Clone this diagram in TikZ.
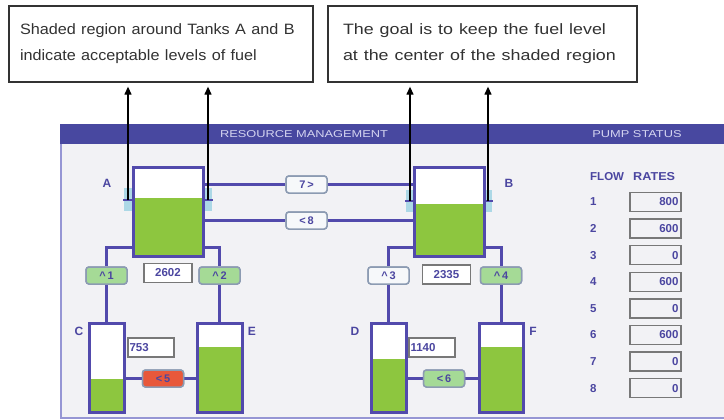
\documentclass[tikz,border=0pt]{standalone}
\usepackage{fontspec}
\setmainfont{Liberation Sans}
\usetikzlibrary{arrows.meta}
\definecolor{hdr}{RGB}{72,72,160}
\definecolor{pipec}{RGB}{82,74,172}
\definecolor{tankgreen}{RGB}{141,198,63}
\definecolor{panelbg}{RGB}{242,242,245}
\definecolor{lbl}{RGB}{75,70,160}
\definecolor{bandc}{RGB}{172,216,230}
\definecolor{btnedge}{RGB}{140,155,178}
\definecolor{btngreen}{RGB}{165,218,150}
\definecolor{btnwhite}{RGB}{246,248,250}
\definecolor{btnred}{RGB}{232,88,58}
\definecolor{hdrtext}{RGB}{212,212,240}
\definecolor{paneledge}{RGB}{150,150,212}
\definecolor{numedge}{RGB}{120,120,120}
\definecolor{notetext}{RGB}{50,50,50}
\newcommand\pnlfont{\fontsize{11.5}{13}\selectfont\bfseries}
\newcommand\btnfont{\fontsize{11}{13}\selectfont\bfseries}
\newcommand\tankfill[2]{\fill[tankgreen] (#1.south west) rectangle (#1.east |- 0,#2);
  \draw[tankline] (#1.south west) rectangle (#1.north east);}
\begin{document}
\begin{tikzpicture}[x=1pt,y=-1pt,
  pipe/.style={draw=pipec, line width=3pt},
  tank/.style={draw=pipec, line width=3pt, fill=white, inner sep=0, outer sep=0, minimum height=89},
  tankline/.style={draw=pipec, line width=3pt},
  btn/.style={draw=btnedge, line width=1.5pt, rounded corners=3pt, minimum width=41, minimum height=17, inner sep=0, font=\btnfont, text=lbl},
  numbox/.style={draw=numedge, line width=1.3pt, fill=white, minimum width=48, minimum height=19, inner sep=0, font=\pnlfont, text=lbl},
  leftnum/.style={numbox, minimum width=46, text width=43, align=left},
  pumpbox/.style={draw=numedge, line width=1.3pt, fill=panelbg, minimum width=51, minimum height=19, inner xsep=2pt, inner ysep=0, text width=46, align=right, font=\pnlfont, text=lbl},
  plabel/.style={font=\pnlfont, text=lbl, inner sep=0},
  tlabel/.style={font=\fontsize{12}{14}\selectfont\bfseries, text=lbl, inner sep=0},
  hdrlabel/.style={font=\fontsize{10}{12}\selectfont, text=hdrtext, inner sep=0},
  note/.style={draw=black!80, line width=1.3pt, fill=white, minimum height=76, align=left, text=notetext, inner xsep=0, font=\fontsize{15}{26}\selectfont},
  callarrow/.style={draw=black, line width=1.2pt, -{Triangle[length=8pt,width=7pt]}, shorten >=4pt},
  band/.style={fill=bandc},
  tick/.style={draw=pipec, line width=2pt}
]
\useasboundingbox (0,0) rectangle (724,420);
\fill[white] (0,0) rectangle (724,420);
% panel
\fill[panelbg] (60,124) rectangle (724,418);
\draw[paneledge, line width=1.5pt] (61,140) -- (61,418) -- (724,418);
\fill[hdr] (60,124) rectangle (724,144);
\node[hdrlabel] (h1) at (304,134) {\scalebox{1.28}[1]{RESOURCE MANAGEMENT}};
\node[hdrlabel] (h2) at (637,134) {\scalebox{1.28}[1]{PUMP STATUS}};
% notes
\node[note, minimum width=304, text width=282] (n1) at (161,44)
  {\scalebox{1.08}[1]{Shaded region around Tanks A and B}\\\scalebox{1.08}[1]{indicate acceptable levels of fuel}};
\node[note, minimum width=309, text width=279] (n2) at (482.5,44)
  {\scalebox{1.19}[1]{The goal is to keep the fuel level}\\\scalebox{1.19}[1]{at the center of the shaded region}};
% tanks
\node[tank, minimum width=70] (A) at (168,211.5) {};
\node[tank, minimum width=70] (B) at (449,211.5) {};
\node[tank, minimum width=35] (C) at (106.5,367.5) {};
\node[tank, minimum width=45] (E) at (219.5,367.5) {};
\node[tank, minimum width=35] (D) at (388.5,367.5) {};
\node[tank, minimum width=44] (F) at (501,367.5) {};
% buttons
\node[btn, fill=btngreen] (b1) at (106.5,275.5) {\textasciicircum\,1};
\node[btn, fill=btngreen] (b2) at (219.5,275.5) {\textasciicircum\,2};
\node[btn, fill=btnwhite] (b3) at (388.5,275.5) {\textasciicircum\,3};
\node[btn, fill=btngreen] (b4) at (501,275.5) {\textasciicircum\,4};
\node[btn, fill=btnred]   (b5) at (163,378.5) {<\,5};
\node[btn, fill=btngreen] (b6) at (444,378.5) {<\,6};
\node[btn, fill=btnwhite] (b7) at (306.5,184.5) {7\,>};
\node[btn, fill=btnwhite] (b8) at (306.5,220.5) {<\,8};
% pipes
\draw[pipe] (A.east |- b7) -- (b7.west);
\draw[pipe] (b7.east) -- (B.west |- b7);
\draw[pipe] (A.east |- b8) -- (b8.west);
\draw[pipe] (b8.east) -- (B.west |- b8);
\draw[pipe] ([yshift=9pt]A.south west) -| (b1.north);
\draw[pipe] ([yshift=9pt]A.south east) -| (b2.north);
\draw[pipe] ([yshift=9pt]B.south west) -| (b3.north);
\draw[pipe] ([yshift=9pt]B.south east) -| (b4.north);
\draw[pipe] (b1.south) -- (C.north);
\draw[pipe] (b2.south) -- (E.north);
\draw[pipe] (b3.south) -- (D.north);
\draw[pipe] (b4.south) -- (F.north);
\draw[pipe] (C.east |- b5) -- (b5.west);
\draw[pipe] (b5.east) -- (E.west |- b5);
\draw[pipe] (D.east |- b6) -- (b6.west);
\draw[pipe] (b6.east) -- (F.west |- b6);
% redraw buttons on top of pipes
\node[btn, fill=btngreen] at (b1) {\textasciicircum\,1};
\node[btn, fill=btngreen] at (b2) {\textasciicircum\,2};
\node[btn, fill=btnwhite] at (b3) {\textasciicircum\,3};
\node[btn, fill=btngreen] at (b4) {\textasciicircum\,4};
\node[btn, fill=btnred]   at (b5) {<\,5};
\node[btn, fill=btngreen] at (b6) {<\,6};
\node[btn, fill=btnwhite] at (b7) {7\,>};
\node[btn, fill=btnwhite] at (b8) {<\,8};
% acceptable-level bands
\fill[band] (124,188) rectangle (A.west |- 0,211);
\fill[band] (A.east |- 0,188) rectangle (212,211);
\fill[band] (406,190) rectangle (B.west |- 0,212);
\fill[band] (B.east |- 0,190) rectangle (492,212);
% fuel levels
\tankfill{A}{198}
\tankfill{B}{204}
\tankfill{C}{379}
\tankfill{E}{347}
\tankfill{D}{359}
\tankfill{F}{347}
% level ticks
\coordinate (iA1) at (128,200);
\coordinate (iA2) at (208,200);
\coordinate (iB1) at (410,201);
\coordinate (iB2) at (488,201);
\draw[tick] (123,200) -- (A.west |- iA1);
\draw[tick] (A.east |- iA2) -- (213,200);
\draw[tick] (405,201) -- (B.west |- iB1);
\draw[tick] (B.east |- iB2) -- (493,201);
% number boxes
\node[numbox] (nA) at (168,273) {2602};
\node[numbox] (nB) at (446.5,274.5) {2335};
\node[leftnum] (nC) at (151,347.5) {753};
\node[leftnum] (nD) at (432,347.5) {1140};
% tank labels
\node[tlabel] (lA) at (107,183) {A};
\node[tlabel] (lB) at (509,183) {B};
\node[tlabel] (lC) at (79,331) {C};
\node[tlabel] (lE) at (252,331) {E};
\node[tlabel] (lD) at (355,331) {D};
\node[tlabel] (lF) at (533,331) {F};
% pump status
\node[plabel, anchor=west] (fl) at (590,177) {FLOW};
\node[plabel, anchor=west] (rt) at (633,177) {\scalebox{1.1}[1]{RATES}};
\foreach \i/\v in {1/800,2/600,3/0,4/600,5/0,6/600,7/0,8/0}{
  \pgfmathsetmacro\yy{202+(\i-1)*26.6}
  \node[plabel, anchor=west] (p\i) at (590,\yy) {\i};
  \node[pumpbox] (r\i) at (655.5,\yy) {\v};
}
% callout arrows
\draw[callarrow] (iA1) -- (iA1 |- n1.south);
\draw[callarrow] (iA2) -- (iA2 |- n1.south);
\draw[callarrow] (iB1) -- (iB1 |- n2.south);
\draw[callarrow] (iB2) -- (iB2 |- n2.south);
\end{tikzpicture}
\end{document}
